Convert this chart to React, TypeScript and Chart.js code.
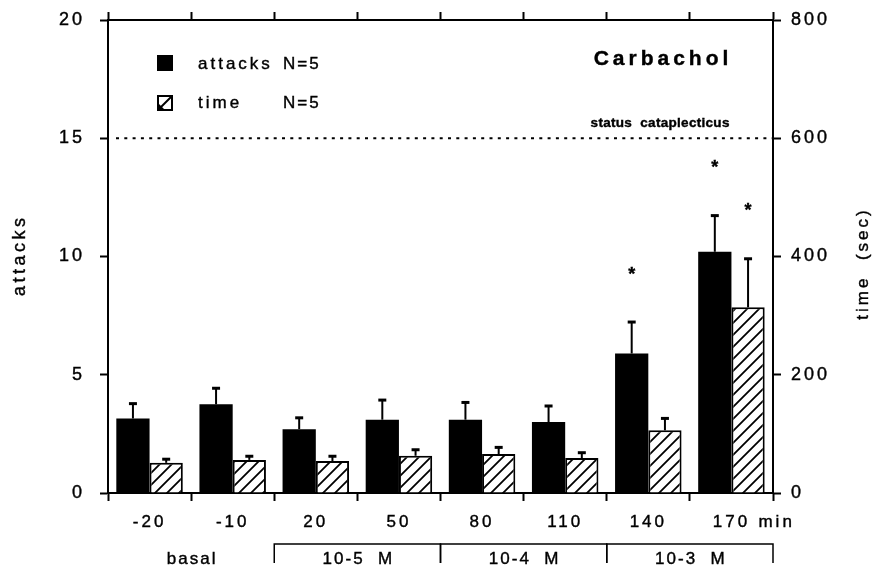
import React, { useEffect, useRef } from 'react';
import { Chart, registerables } from 'chart.js';

Chart.register(...registerables);

// ---- data ----
const categories = ['-20', '-10', '20', '50', '80', '110', '140', '170'];
const attacks = [3.15, 3.75, 2.7, 3.1, 3.1, 3.0, 5.9, 10.2];
const attacksErr = [0.65, 0.7, 0.5, 0.85, 0.75, 0.7, 1.35, 1.55];
const timeSec = [51, 56, 54, 63, 66, 59, 106, 314];
const timeErr = [7, 7, 9, 11, 12, 10, 21, 83];
const attacksSignificant = [false, false, false, false, false, false, true, true];
const timeSignificant = [false, false, false, false, false, false, false, true];
const attacksTicks = [0, 5, 10, 15, 20];
const timeTicks = [0, 200, 400, 600, 800];
const statusLevel = 15;
const phaseLabels = ['basal', '10-5  M', '10-4  M', '10-3  M'];
const phaseStart = [0, 2, 4, 6];
const phaseEnd = [1, 3, 5, 7];
const phaseBracket = [false, true, true, true];

const FONT = '"Liberation Sans", Arial, Helvetica, sans-serif';

function txt(
  ctx: CanvasRenderingContext2D,
  s: string,
  x: number,
  y: number,
  font: string,
  spacing: number,
  align: CanvasTextAlign = 'left',
  baseline: CanvasTextBaseline = 'middle'
) {
  ctx.save();
  ctx.font = font;
  (ctx as any).letterSpacing = spacing + 'px';
  ctx.textAlign = align;
  ctx.textBaseline = baseline;
  ctx.fillStyle = '#000';
  ctx.strokeStyle = '#000';
  ctx.lineWidth = 0.4;
  let dx = 0;
  if (align === 'center') dx = spacing / 2;
  if (align === 'right') dx = spacing;
  ctx.fillText(s, x + dx, y);
  ctx.strokeText(s, x + dx, y);
  ctx.restore();
}

function makeHatch(): CanvasPattern | string {
  const c = document.createElement('canvas');
  const n = 12;
  c.width = n;
  c.height = n;
  const g = c.getContext('2d');
  if (!g) return '#fff';
  g.fillStyle = '#fff';
  g.fillRect(0, 0, n, n);
  g.strokeStyle = '#000';
  g.lineWidth = 1.8;
  g.beginPath();
  g.moveTo(-2, n + 2);
  g.lineTo(n + 2, -2);
  g.moveTo(-2, 2);
  g.lineTo(2, -2);
  g.moveTo(n - 2, n + 2);
  g.lineTo(n + 2, n - 2);
  g.stroke();
  const p = g.createPattern(c, 'repeat');
  return p || '#fff';
}

const decorPlugin = {
  id: 'decor',
  beforeDraw(chart: any) {
    chart.ctx.letterSpacing = '3px';
  },
  afterDatasetsDraw(chart: any) {
    const ctx: CanvasRenderingContext2D = chart.ctx;
    const ca = chart.chartArea;
    ctx.save();
    (ctx as any).letterSpacing = '0px';
    // status cataplecticus dotted line
    const yS = chart.scales.y.getPixelForValue(statusLevel);
    ctx.strokeStyle = '#000';
    ctx.lineWidth = 2;
    ctx.setLineDash([3, 5.3]);
    ctx.beginPath();
    ctx.moveTo(ca.left + 8, yS);
    ctx.lineTo(ca.right, yS);
    ctx.stroke();
    ctx.setLineDash([]);

    // error bars + significance
    const drawErr = (dsIndex: number, vals: number[], errs: number[], sig: boolean[], axis: string) => {
      const meta = chart.getDatasetMeta(dsIndex);
      const sc = chart.scales[axis];
      meta.data.forEach((bar: any, i: number) => {
        const top = sc.getPixelForValue(vals[i] + errs[i]);
        ctx.strokeStyle = '#000';
        ctx.lineWidth = 2;
        ctx.beginPath();
        ctx.moveTo(bar.x, bar.y);
        ctx.lineTo(bar.x, top);
        ctx.stroke();
        ctx.lineWidth = 3;
        ctx.beginPath();
        ctx.moveTo(bar.x - 4, top + 0.5);
        ctx.lineTo(bar.x + 4, top + 0.5);
        ctx.stroke();
        if (sig[i]) {
          txt(ctx, '*', bar.x, top - 52 + 10, 'bold 18px ' + FONT, 0, 'center', 'alphabetic');
        }
      });
    };
    drawErr(0, attacks, attacksErr, attacksSignificant, 'y');
    drawErr(1, timeSec, timeErr, timeSignificant, 'y1');
    ctx.restore();
  },
  afterDraw(chart: any) {
    const ctx: CanvasRenderingContext2D = chart.ctx;
    const ca = chart.chartArea;
    ctx.save();
    (ctx as any).letterSpacing = '0px';
    const xs = chart.scales.x;
    const half = (xs.getPixelForValue(1) - xs.getPixelForValue(0)) / 2;

    // "min" after last tick label
    txt(ctx, 'min', xs.getPixelForValue(categories.length - 1) + 27, ca.bottom + 29, '17px ' + FONT, 3, 'left');

    // phases / brackets
    phaseLabels.forEach((lab, k) => {
      const l = xs.getPixelForValue(phaseStart[k]) - half;
      const r = xs.getPixelForValue(phaseEnd[k]) + half;
      if (phaseBracket[k]) {
        ctx.strokeStyle = '#000';
        ctx.lineWidth = 1.5;
        ctx.beginPath();
        ctx.moveTo(l, ca.bottom + 70);
        ctx.lineTo(l, ca.bottom + 51);
        ctx.lineTo(r, ca.bottom + 51);
        ctx.lineTo(r, ca.bottom + 70);
        ctx.stroke();
      }
      txt(ctx, lab, (l + r) / 2, ca.bottom + 66, '17px ' + FONT, 2, 'center');
    });

    // legend
    const lx = ca.left + 49;
    ctx.fillStyle = '#000';
    ctx.fillRect(lx, ca.top + 35, 16, 16);
    txt(ctx, 'attacks', ca.left + 90, ca.top + 44, '17px ' + FONT, 3, 'left');
    txt(ctx, 'N=5', ca.left + 175, ca.top + 44, '17px ' + FONT, 2, 'left');
    ctx.strokeStyle = '#000';
    ctx.lineWidth = 2;
    ctx.strokeRect(lx + 1, ca.top + 76, 14, 14);
    ctx.beginPath();
    ctx.moveTo(lx + 2, ca.top + 89);
    ctx.lineTo(lx + 14, ca.top + 77);
    ctx.stroke();
    ctx.beginPath();
    ctx.moveTo(lx + 2, ca.top + 89);
    ctx.lineTo(lx + 7, ca.top + 89);
    ctx.lineTo(lx + 2, ca.top + 84);
    ctx.closePath();
    ctx.fill();
    txt(ctx, 'time', ca.left + 90, ca.top + 83, '17px ' + FONT, 3, 'left');
    txt(ctx, 'N=5', ca.left + 175, ca.top + 83, '17px ' + FONT, 2, 'left');

    // titles
    txt(ctx, 'Carbachol', ca.right - 112, ca.top + 39, 'bold 21px ' + FONT, 4, 'center');
    const yS = chart.scales.y.getPixelForValue(statusLevel);
    txt(ctx, 'status  cataplecticus', ca.right - 113, yS - 15, 'bold 13.5px ' + FONT, 0.3, 'center');

    // axis titles
    ctx.save();
    ctx.translate(20, 257);
    ctx.rotate(-Math.PI / 2);
    txt(ctx, 'attacks', 0, 0, '18px ' + FONT, 3.5, 'center');
    ctx.restore();
    ctx.save();
    ctx.translate(863, 265);
    ctx.rotate(-Math.PI / 2);
    txt(ctx, 'time  (sec)', 0, 0, '17px ' + FONT, 3, 'center');
    ctx.restore();

    ctx.restore();
    (ctx as any).letterSpacing = '0px';
  },
};

export default function App() {
  const ref = useRef<HTMLCanvasElement | null>(null);
  useEffect(() => {
    if (!ref.current) return;
    const hatch = makeHatch();
    const gridOpts = {
      drawOnChartArea: false,
      drawTicks: true,
      tickLength: 8,
      tickWidth: 2,
      tickColor: '#000',
      color: '#000',
    };
    const border = { color: '#000', width: 2 };
    const noPad = (s: any) => {
      s.paddingTop = 0;
      s.paddingBottom = 0;
      s.paddingLeft = 0;
      s.paddingRight = 0;
    };
    const tickStroke = { textStrokeColor: '#000', textStrokeWidth: 0.4 };
    const chart = new Chart(ref.current, {
      type: 'bar',
      data: {
        labels: categories,
        datasets: [
          {
            label: 'attacks',
            data: attacks,
            backgroundColor: '#000',
            borderWidth: 0,
            yAxisID: 'y',
            xAxisID: 'x',
            categoryPercentage: 0.8,
            barPercentage: 1,
          },
          {
            label: 'time',
            data: timeSec,
            backgroundColor: hatch as any,
            borderColor: '#000',
            borderWidth: 2,
            yAxisID: 'y1',
            xAxisID: 'x',
            categoryPercentage: 0.8,
            barPercentage: 1,
          },
        ],
      },
      options: {
        responsive: false,
        animation: false,
        devicePixelRatio: 1,
        layout: { padding: 0 },
        plugins: { legend: { display: false }, tooltip: { enabled: false } },
        scales: {
          x: {
            type: 'category',
            position: 'bottom',
            offset: true,
            grid: { ...gridOpts, offset: true },
            border,
            ticks: {
              color: '#000',
              font: { family: FONT, size: 17 },
              padding: 11,
              maxRotation: 0,
              autoSkip: false,
              ...tickStroke,
            },
            afterFit: (s: any) => {
              s.height = 77;
              noPad(s);
            },
          },
          x2: {
            type: 'category',
            position: 'top',
            offset: true,
            grid: { ...gridOpts, offset: true },
            border,
            ticks: { display: false },
            afterFit: (s: any) => {
              s.height = 20;
              noPad(s);
            },
          },
          y: {
            position: 'left',
            min: 0,
            max: 20,
            grid: gridOpts,
            border,
            ticks: { color: '#000', font: { family: FONT, size: 18 }, padding: 15, ...tickStroke },
            afterBuildTicks: (s: any) => {
              s.ticks = attacksTicks.map((v) => ({ value: v }));
            },
            afterFit: (s: any) => {
              s.width = 108;
              noPad(s);
            },
          },
          y1: {
            position: 'right',
            min: 0,
            max: 800,
            grid: gridOpts,
            border,
            ticks: { color: '#000', font: { family: FONT, size: 18 }, padding: 10, ...tickStroke },
            afterBuildTicks: (s: any) => {
              s.ticks = timeTicks.map((v) => ({ value: v }));
            },
            afterFit: (s: any) => {
              s.width = 104;
              noPad(s);
            },
          },
        },
      } as any,
      plugins: [decorPlugin],
    });
    return () => chart.destroy();
  }, []);
  return (
    <div style={{ position: 'absolute', left: 0, top: 0, width: 877, height: 570, background: '#fff' }}>
      <canvas ref={ref} width={877} height={570} style={{ display: 'block' }} />
    </div>
  );
}
